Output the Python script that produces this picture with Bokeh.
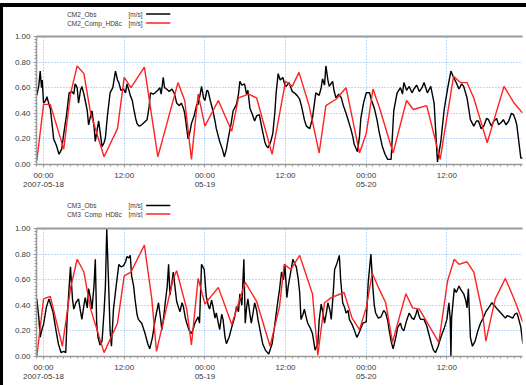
from bokeh.plotting import figure
from bokeh.layouts import column, row
from bokeh.models import FixedTicker, LinearAxis, Range1d, PrintfTickFormatter, Div, Spacer
from bokeh.embed import file_html
from bokeh.resources import INLINE
from bokeh.core.properties import value

FONT = "Liberation Sans"

# time in hours since 2007-05-18 00:00
x_major = [0, 12, 24, 36, 48, 60]
x_labels = ["00:00\n2007-05-18", "12:00", "00:00\n05-19", "12:00", "00:00\n05-20", "12:00"]
y_major = [0.0, 0.2, 0.4, 0.6, 0.8, 1.0]

cm2_obs = [(-1.0, 0.54), (-0.7, 0.62), (-0.5, 0.73), (-0.3, 0.60), (-0.2, 0.66), (0.0, 0.48), (0.3, 0.50), (0.5, 0.53),
           (0.8, 0.47), (1.0, 0.44), (1.3, 0.30), (1.5, 0.20), (1.9, 0.15), (2.3, 0.08), (2.7, 0.12), (3.0, 0.24),
           (3.4, 0.38), (3.8, 0.56), (4.2, 0.57), (4.5, 0.55), (4.7, 0.63), (5.0, 0.60), (5.2, 0.48), (5.5, 0.58),
           (5.7, 0.61), (6.0, 0.55), (6.2, 0.50), (6.5, 0.42), (6.7, 0.31), (7.0, 0.38), (7.2, 0.42), (7.5, 0.30),
           (7.7, 0.18), (8.0, 0.28), (8.2, 0.34), (8.5, 0.22), (8.7, 0.14), (9.0, 0.17), (9.2, 0.21), (9.5, 0.38),
           (9.9, 0.56), (10.3, 0.60), (10.7, 0.73), (11.0, 0.66), (11.2, 0.64), (11.5, 0.58), (11.9, 0.59),
           (12.2, 0.56), (12.4, 0.63), (12.7, 0.58), (12.9, 0.54), (13.2, 0.50), (13.4, 0.44), (13.7, 0.36),
           (13.9, 0.32), (14.2, 0.30), (14.6, 0.31), (15.0, 0.33), (15.4, 0.35), (15.7, 0.45), (15.9, 0.56),
           (16.3, 0.55), (16.6, 0.56), (17.0, 0.58), (17.3, 0.60), (17.5, 0.55), (17.8, 0.68), (18.0, 0.60),
           (18.3, 0.59), (18.7, 0.57), (19.1, 0.59), (19.5, 0.55), (19.8, 0.48), (20.2, 0.46), (20.5, 0.48),
           (20.8, 0.44), (21.0, 0.40), (21.3, 0.28), (21.5, 0.20), (21.8, 0.26), (22.0, 0.32), (22.4, 0.38),
           (22.8, 0.47), (23.0, 0.47), (23.3, 0.55), (23.5, 0.61), (23.8, 0.52), (24.0, 0.50), (24.3, 0.58),
           (24.5, 0.57), (24.8, 0.50), (25.2, 0.42), (25.5, 0.34), (25.7, 0.28), (26.0, 0.22), (26.2, 0.18),
           (26.6, 0.12), (26.9, 0.06), (27.2, 0.12), (27.5, 0.21), (27.9, 0.32), (28.2, 0.42), (28.7, 0.47),
           (29.0, 0.55), (29.2, 0.65), (29.5, 0.62), (29.9, 0.63), (30.2, 0.55), (30.4, 0.58), (30.7, 0.44),
           (31.0, 0.40), (31.4, 0.34), (31.7, 0.38), (32.1, 0.39), (32.5, 0.28), (32.9, 0.18), (33.1, 0.15),
           (33.4, 0.13), (33.8, 0.18), (34.1, 0.24), (34.4, 0.40), (34.6, 0.56), (34.9, 0.71), (35.2, 0.66),
           (35.6, 0.68), (35.9, 0.62), (36.1, 0.61), (36.5, 0.64), (36.8, 0.60), (37.0, 0.57), (37.3, 0.56),
           (37.7, 0.54), (38.1, 0.51), (38.4, 0.45), (38.8, 0.35), (39.1, 0.30), (39.6, 0.28), (40.0, 0.36),
           (40.3, 0.48), (40.5, 0.56), (41.0, 0.54), (41.3, 0.60), (41.5, 0.67), (41.8, 0.62), (42.0, 0.77),
           (42.3, 0.66), (42.5, 0.61), (43.0, 0.65), (43.2, 0.58), (43.5, 0.52), (43.9, 0.55), (44.3, 0.52),
           (44.6, 0.46), (45.0, 0.40), (45.3, 0.35), (45.7, 0.28), (46.0, 0.22), (46.2, 0.16), (46.7, 0.10),
           (47.0, 0.22), (47.2, 0.36), (47.6, 0.48), (48.0, 0.56), (48.5, 0.56), (48.8, 0.50), (49.2, 0.44),
           (49.6, 0.35), (49.9, 0.26), (50.4, 0.14), (50.8, 0.08), (51.2, 0.04), (51.7, 0.04), (52.1, 0.42),
           (52.6, 0.56), (53.1, 0.60), (53.4, 0.55), (53.6, 0.64), (54.0, 0.58), (54.4, 0.61), (54.8, 0.56),
           (55.1, 0.59), (55.5, 0.62), (55.9, 0.57), (56.3, 0.60), (56.6, 0.64), (57.1, 0.56), (57.6, 0.61),
           (58.1, 0.48), (58.4, 0.20), (58.6, 0.02), (59.1, 0.18), (59.6, 0.43), (60.1, 0.59), (60.6, 0.73),
           (61.0, 0.68), (61.3, 0.65), (61.8, 0.59), (62.2, 0.63), (62.5, 0.61), (63.0, 0.52), (63.5, 0.35),
           (64.0, 0.30), (64.4, 0.34), (64.7, 0.34), (65.1, 0.28), (65.5, 0.30), (65.9, 0.36), (66.2, 0.35),
           (66.6, 0.30), (67.0, 0.34), (67.4, 0.36), (67.7, 0.31), (68.1, 0.33), (68.4, 0.35), (68.8, 0.31),
           (69.2, 0.34), (69.6, 0.40), (69.9, 0.39), (70.2, 0.35), (70.4, 0.31), (70.7, 0.18), (71.0, 0.05),
           (71.3, 0.05)]

cm2_comp = [(-1.0, 0.03), (0.0, 0.47), (1.0, 0.47), (3.0, 0.12), (4.0, 0.55), (5.0, 0.77), (6.0, 0.71), (7.0, 0.40),
            (9.0, 0.06), (11.0, 0.28), (12.0, 0.68), (13.0, 0.60), (15.0, 0.76), (17.0, 0.06), (20.0, 0.64),
            (21.0, 0.50), (22.0, 0.04), (23.0, 0.55), (24.0, 0.30), (26.0, 0.50), (28.0, 0.26), (29.0, 0.52),
            (30.5, 0.55), (31.7, 0.52), (34.0, 0.08), (36.0, 0.65), (37.0, 0.61), (38.0, 0.72), (39.5, 0.46),
            (41.0, 0.09), (42.0, 0.46), (43.5, 0.51), (45.0, 0.60), (47.0, 0.09), (48.0, 0.24), (49.0, 0.59),
            (50.0, 0.44), (52.0, 0.09), (54.0, 0.50), (55.0, 0.43), (57.0, 0.46), (59.0, 0.04), (61.0, 0.69),
            (62.0, 0.64), (63.0, 0.64), (64.0, 0.52), (66.0, 0.17), (68.5, 0.61), (70.0, 0.48), (71.3, 0.40)]

cm3_obs = [(-1.0, 0.45), (-0.7, 0.30), (-0.5, 0.15), (-0.2, 0.22), (0.0, 0.25), (0.4, 0.38), (0.8, 0.45), (1.1, 0.40),
           (1.4, 0.35), (1.8, 0.22), (2.2, 0.10), (2.6, 0.03), (3.0, 0.04), (3.3, 0.03), (3.5, 0.29), (4.0, 0.70),
           (4.3, 0.45), (4.5, 0.37), (4.8, 0.42), (5.2, 0.45), (5.5, 0.35), (5.7, 0.29), (6.0, 0.40), (6.2, 0.46),
           (6.5, 0.38), (6.7, 0.53), (7.0, 0.45), (7.2, 0.37), (7.5, 0.55), (7.7, 0.76), (7.9, 0.26), (8.1, 0.15),
           (8.4, 0.09), (8.7, 0.12), (9.0, 0.35), (9.2, 0.55), (9.4, 1.00), (9.7, 0.53), (9.9, 0.20), (10.1, 0.08),
           (10.4, 0.37), (10.8, 0.55), (11.2, 0.72), (11.5, 0.70), (11.9, 0.71), (12.2, 0.74), (12.4, 0.78),
           (12.7, 0.77), (12.9, 0.79), (13.1, 0.63), (13.4, 0.55), (13.6, 0.45), (13.9, 0.33), (14.1, 0.29),
           (14.6, 0.26), (15.1, 0.18), (15.5, 0.10), (15.8, 0.06), (16.2, 0.15), (16.6, 0.29), (17.1, 0.42),
           (17.4, 0.30), (17.6, 0.21), (17.9, 0.32), (18.1, 0.42), (18.4, 0.55), (18.6, 0.72), (18.8, 0.48),
           (19.1, 0.58), (19.3, 0.66), (19.6, 0.52), (19.8, 0.43), (20.1, 0.38), (20.3, 0.35), (20.6, 0.42),
           (20.8, 0.39), (21.1, 0.30), (21.3, 0.26), (21.7, 0.20), (22.0, 0.18), (22.3, 0.22), (22.5, 0.26),
           (23.0, 0.31), (23.2, 0.26), (23.5, 0.72), (23.7, 0.70), (23.9, 0.68), (24.2, 0.47), (24.5, 0.40),
           (24.7, 0.37), (25.0, 0.44), (25.2, 0.39), (25.5, 0.30), (25.7, 0.34), (26.0, 0.26), (26.2, 0.21),
           (26.5, 0.33), (26.7, 0.29), (27.0, 0.15), (27.2, 0.10), (27.6, 0.15), (28.0, 0.23), (28.4, 0.30),
           (28.7, 0.39), (29.0, 0.35), (29.2, 0.49), (29.5, 0.40), (29.8, 0.76), (30.0, 0.26), (30.2, 0.38),
           (30.4, 0.45), (30.7, 0.33), (30.9, 0.26), (31.2, 0.35), (31.4, 0.42), (31.7, 0.36), (31.9, 0.29),
           (32.3, 0.18), (32.6, 0.10), (33.0, 0.05), (33.5, 0.02), (34.0, 0.10), (34.4, 0.25), (34.9, 0.45),
           (35.1, 0.52), (35.4, 0.66), (35.7, 0.60), (35.9, 0.72), (36.2, 0.46), (36.4, 0.55), (36.6, 0.61),
           (36.9, 0.70), (37.1, 0.76), (37.4, 0.72), (37.6, 0.70), (37.9, 0.60), (38.1, 0.50), (38.3, 0.29),
           (38.6, 0.33), (38.8, 0.37), (39.1, 0.30), (39.3, 0.26), (39.7, 0.22), (40.0, 0.18), (40.4, 0.05),
           (40.8, 0.10), (41.0, 0.28), (41.3, 0.41), (41.6, 0.33), (41.8, 0.26), (42.1, 0.35), (42.3, 0.42),
           (42.6, 0.36), (42.8, 0.29), (43.1, 0.50), (43.3, 0.68), (43.6, 0.72), (44.0, 0.79), (44.2, 0.60),
           (44.5, 0.42), (44.8, 0.38), (45.0, 0.34), (45.3, 0.36), (45.5, 0.29), (45.9, 0.25), (46.2, 0.21),
           (46.6, 0.15), (46.9, 0.18), (47.2, 0.22), (47.5, 0.26), (48.0, 0.27), (48.3, 0.58), (48.7, 0.80),
           (49.0, 0.53), (49.2, 0.40), (49.4, 0.34), (49.8, 0.30), (50.2, 0.31), (50.6, 0.36), (50.9, 0.34),
           (51.2, 0.28), (51.4, 0.21), (51.7, 0.12), (52.0, 0.06), (52.4, 0.15), (52.7, 0.23), (53.1, 0.26),
           (53.3, 0.22), (53.6, 0.20), (54.0, 0.28), (54.4, 0.34), (54.8, 0.30), (55.1, 0.29), (55.4, 0.33),
           (55.6, 0.37), (55.9, 0.31), (56.1, 0.29), (56.6, 0.29), (57.0, 0.24), (57.3, 0.18), (57.7, 0.10),
           (58.0, 0.05), (58.3, 0.03), (58.7, 0.08), (59.1, 0.15), (59.6, 0.22), (60.0, 0.29), (60.3, 0.42),
           (60.5, 0.29), (60.6, 0.00), (60.7, 0.30), (61.1, 0.53), (61.4, 0.50), (61.8, 0.55), (62.1, 0.52),
           (62.5, 0.49), (62.8, 0.44), (63.0, 0.38), (63.2, 0.53), (63.5, 0.15), (63.8, 0.08), (64.2, 0.12),
           (64.6, 0.20), (65.0, 0.26), (65.4, 0.30), (65.8, 0.35), (66.2, 0.38), (66.7, 0.42), (67.0, 0.40),
           (67.2, 0.39), (67.5, 0.37), (67.7, 0.36), (68.2, 0.33), (68.7, 0.30), (69.0, 0.32), (69.4, 0.31),
           (69.8, 0.30), (70.1, 0.33), (70.4, 0.34), (70.6, 0.31), (71.0, 0.23), (71.3, 0.10)]

cm3_comp = [(-1.0, 0.00), (0.0, 0.45), (1.0, 0.47), (2.8, 0.08), (4.0, 0.53), (5.0, 0.76), (6.0, 0.66), (7.0, 0.37),
            (9.0, 0.03), (11.0, 0.26), (12.0, 0.63), (13.0, 0.66), (15.0, 0.87), (16.1, 0.45), (16.8, 0.04),
            (19.3, 0.61), (19.8, 0.67), (21.3, 0.37), (22.0, 0.09), (23.0, 0.61), (24.0, 0.41), (26.0, 0.54),
            (28.0, 0.25), (30.0, 0.58), (31.7, 0.43), (33.7, 0.08), (35.1, 0.39), (35.8, 0.72), (36.8, 0.68),
            (38.1, 0.79), (40.0, 0.49), (40.8, 0.01), (41.8, 0.42), (42.8, 0.46), (44.7, 0.50), (45.9, 0.30),
            (47.0, 0.21), (48.0, 0.38), (48.9, 0.65), (49.9, 0.53), (50.9, 0.42), (51.9, 0.11), (53.9, 0.49),
            (54.9, 0.38), (55.9, 0.37), (56.8, 0.29), (58.8, 0.11), (60.1, 0.59), (61.1, 0.76), (61.8, 0.72),
            (63.0, 0.74), (64.0, 0.66), (65.3, 0.34), (65.8, 0.12), (67.2, 0.45), (68.7, 0.61), (70.0, 0.45),
            (71.3, 0.27)]

names_top = ["CM2_Obs", "CM2_Comp_HD8c"]
names_bottom = ["CM3_Obs", "CM3_Comp_HD8c"]
unit = "[m/s]"

OBS_COLOR = "#000000"
COMP_COLOR = "#ff2222"
AXIS_COLOR = "#9a9a9a"
GRID_COLOR = "#7db3f2"
LABEL_COLOR = "#3a3a3a"
W = 523  # content width right of the dark left edge


def legend_fig(height, names, y_rows):
    f = figure(width=W, height=height, x_range=Range1d(0, W), y_range=Range1d(height, 0),
               toolbar_location=None, output_backend="svg", min_border=0,
               x_axis_location=None, y_axis_location=None)
    f.grid.visible = False
    f.outline_line_color = None
    for name, y, col in zip(names, y_rows, [OBS_COLOR, COMP_COLOR]):
        f.text(x=[33], y=[y], text=[name], text_font=value(FONT), text_font_size="6.5px",
               text_color=LABEL_COLOR, text_baseline="middle")
        f.text(x=[99], y=[y], text=[unit], text_font=value(FONT), text_font_size="6.5px",
               text_color=LABEL_COLOR, text_baseline="middle")
        f.line(x=[118, 144], y=[y, y], line_color=col, line_width=1.6)
    return f


def panel(obs, comp, height, top, bottom):
    p = figure(width=W, height=height, x_range=Range1d(-1.05, 71.25), y_range=Range1d(0, 1),
               toolbar_location=None, output_backend="svg",
               min_border_left=33, min_border_right=4, min_border_top=top, min_border_bottom=bottom)
    p.outline_line_color = None

    p.xaxis.ticker = FixedTicker(ticks=x_major, minor_ticks=list(range(-1, 72)))
    p.xaxis.major_label_overrides = {t: lab for t, lab in zip(x_major, x_labels)}
    p.yaxis.ticker = FixedTicker(ticks=y_major, minor_ticks=[i * 0.025 for i in range(41)])
    p.yaxis.formatter = PrintfTickFormatter(format="%.2f")
    for ax in (p.xaxis[0], p.yaxis[0]):
        ax.axis_line_color = AXIS_COLOR
        ax.axis_line_width = 1.5
        ax.major_tick_line_color = AXIS_COLOR
        ax.minor_tick_line_color = AXIS_COLOR
        ax.major_tick_in = 0
        ax.major_tick_out = 3
        ax.minor_tick_in = 0
        ax.minor_tick_out = 2
        ax.major_label_text_font = FONT
        ax.major_label_text_font_size = "8px"
        ax.major_label_text_color = LABEL_COLOR
        ax.major_label_standoff = 3
        ax.major_label_text_line_height = 1.0
    top_axis = LinearAxis(ticker=FixedTicker(ticks=[]), axis_line_color=AXIS_COLOR, axis_line_width=2,
                          major_label_text_font_size="0px", major_tick_line_color=None,
                          minor_tick_line_color=None, major_label_standoff=0)
    p.add_layout(top_axis, "above")

    p.xgrid.ticker = FixedTicker(ticks=x_major)
    p.ygrid.ticker = FixedTicker(ticks=y_major[1:-1])
    for g in (p.xgrid[0], p.ygrid[0]):
        g.grid_line_color = GRID_COLOR
        g.grid_line_dash = "1 2"
        g.grid_line_width = 1

    p.line([t for t, _ in obs], [v for _, v in obs], line_color=OBS_COLOR, line_width=1.4)
    p.line([t for t, _ in comp], [v for _, v in comp], line_color=COMP_COLOR, line_width=1.4)
    return p


leg1 = legend_fig(23, names_top, [6.5, 15.5])
p1 = panel(cm2_obs, cm2_comp, 166, 6, 32)
leg2 = legend_fig(22, names_bottom, [9, 17.5])
p2 = panel(cm3_obs, cm3_comp, 167, 10, 29)

top_edge = Div(width=W, height=4, margin=0, styles={"background-color": "#000000"})
left_edge = Div(width=3, height=382, margin=0, styles={"background-color": "#000000"})
content = column(top_edge, leg1, p1, leg2, p2, spacing=0)
layout = column(Spacer(width=526, height=3), row(left_edge, content, spacing=0), spacing=0)
open("out.html", "w").write(file_html(layout, INLINE))
